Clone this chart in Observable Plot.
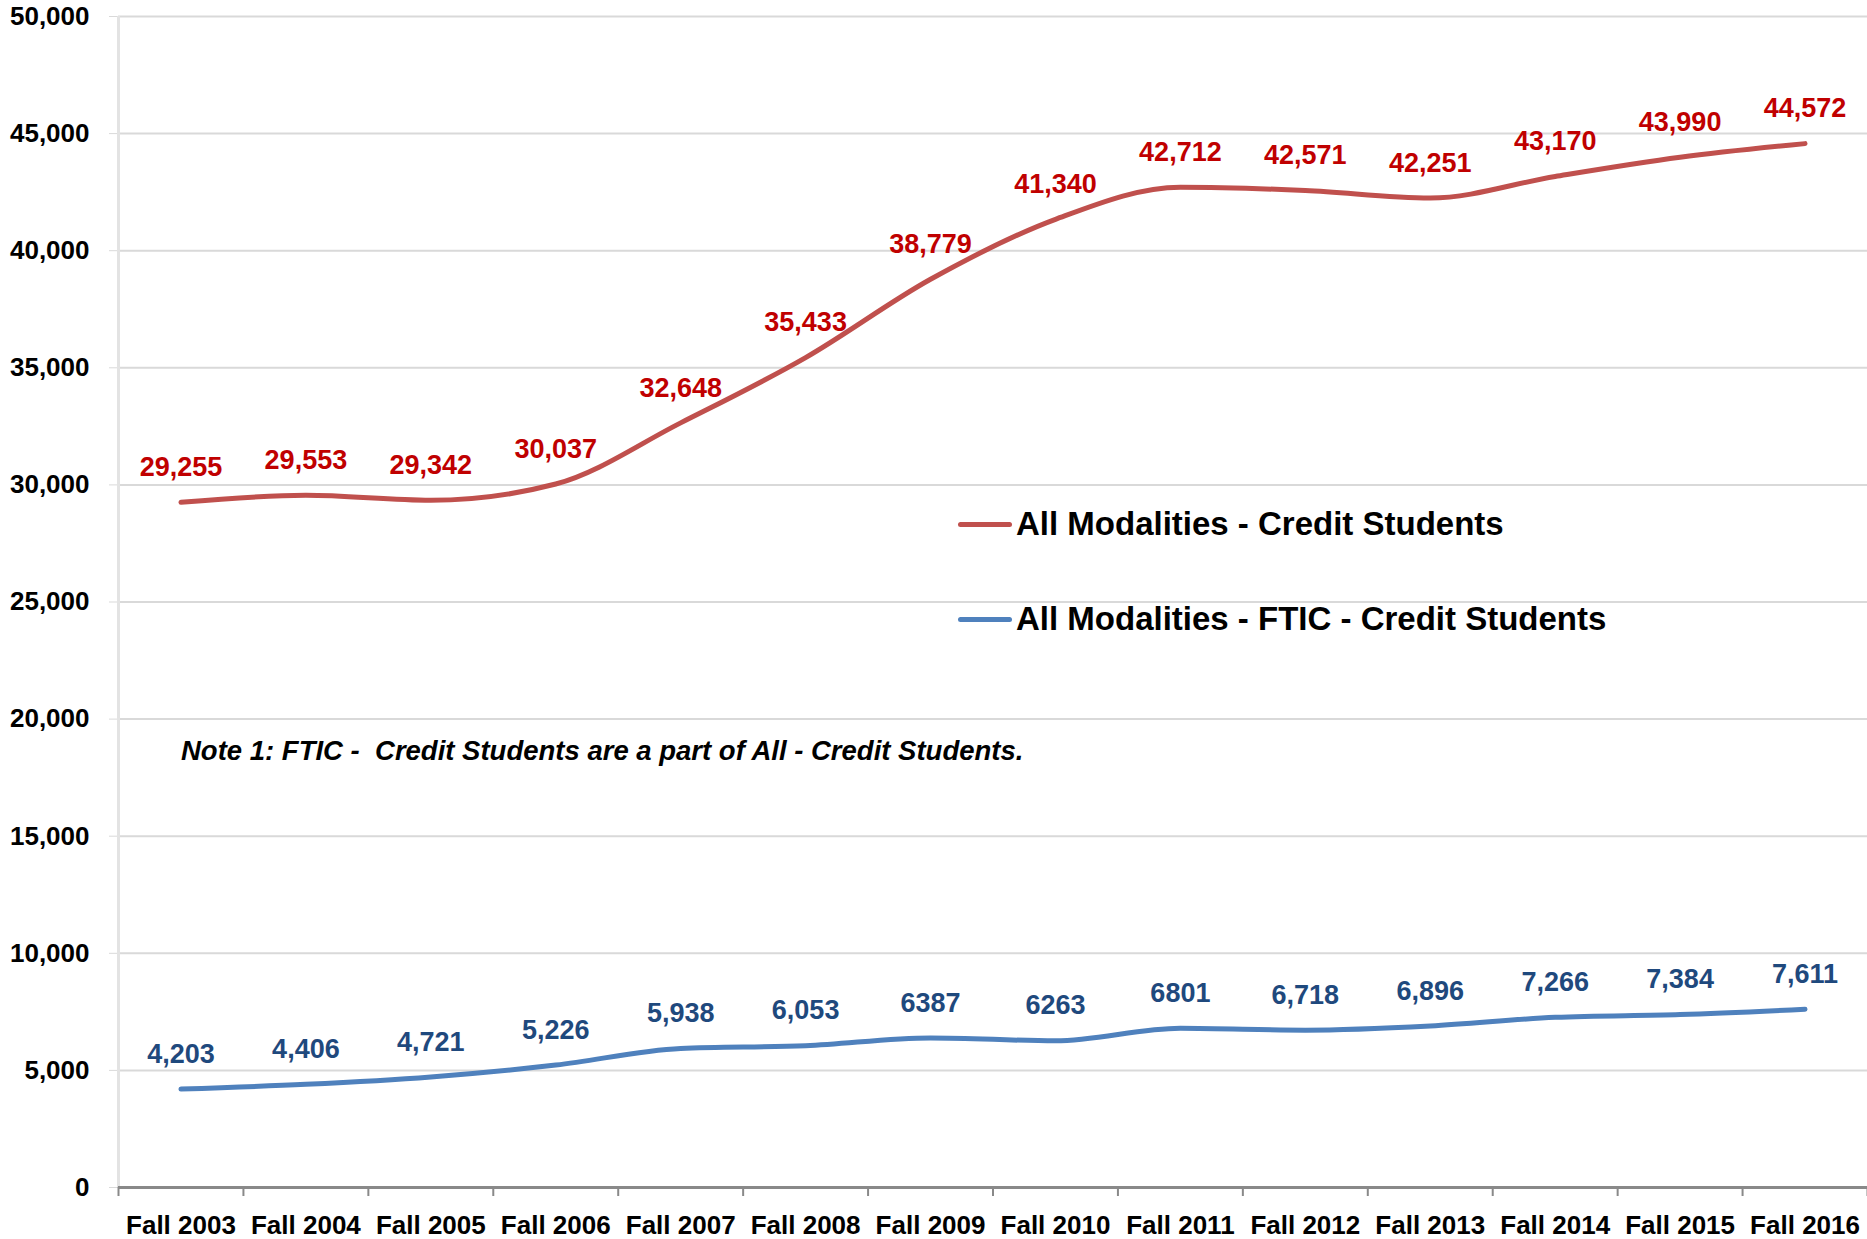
<!DOCTYPE html>
<html><head><meta charset="utf-8">
<script src="https://cdn.jsdelivr.net/npm/d3@7"></script>
<script src="https://cdn.jsdelivr.net/npm/@observablehq/plot@0.6"></script>
<style>
body{margin:0;background:#fff;}
#wrap{position:relative;width:1867px;height:1239px;overflow:hidden;}
.ff{font-family:"Liberation Sans",Arial,sans-serif;font-weight:bold;}
.legend{position:absolute;left:958px;font-size:33px;color:#000;display:flex;align-items:center;height:40px;white-space:pre;}
.sw{display:inline-block;width:54px;height:5px;border-radius:3px;margin-right:4px;}
.note{position:absolute;left:181px;top:735px;font-size:27.5px;line-height:32px;font-style:italic;white-space:pre;color:#000;}
</style></head>
<body><div id="wrap"></div>
<script>
const terms = ["Fall 2003","Fall 2004","Fall 2005","Fall 2006","Fall 2007","Fall 2008","Fall 2009","Fall 2010","Fall 2011","Fall 2012","Fall 2013","Fall 2014","Fall 2015","Fall 2016"];
const allCredit = [29255,29553,29342,30037,32648,35433,38779,41340,42712,42571,42251,43170,43990,44572];
const allCreditLabels = ["29,255","29,553","29,342","30,037","32,648","35,433","38,779","41,340","42,712","42,571","42,251","43,170","43,990","44,572"];
const ftic = [4203,4406,4721,5226,5938,6053,6387,6263,6801,6718,6896,7266,7384,7611];
const fticLabels = ["4,203","4,406","4,721","5,226","5,938","6,053","6387","6263","6801","6,718","6,896","7,266","7,384","7,611"];
const seriesNames = ["All Modalities - Credit Students","All Modalities - FTIC - Credit Students"];
const lineColors = ["#c0504d","#4f81bd"];
const labelColors = ["#c00000","#1f497d"];
const yTicks = d3.range(0, 50001, 5000);
const noteText = "Note 1: FTIC -  Credit Students are a part of All - Credit Students.";

const rows = [];
terms.forEach((t,i)=>{
  rows.push({i, term:t, value:allCredit[i], label:allCreditLabels[i], s:0});
  rows.push({i, term:t, value:ftic[i], label:fticLabels[i], s:1});
});
const FF = '"Liberation Sans",Arial,sans-serif';

const chart = Plot.plot({
  width:1867, height:1239,
  marginLeft:118, marginRight:0, marginTop:16, marginBottom:52,
  style:{fontFamily:FF, fontWeight:"bold", fontSize:"26px", color:"#000", background:"#fff"},
  x:{domain:[-0.5, terms.length-0.5], axis:null},
  y:{domain:[0,50000], axis:null},
  marks:[
    Plot.ruleY(yTicks.filter(d=>d>0), {stroke:"#d9d9d9", strokeWidth:2, x1:-0.5, x2:terms.length-0.5}),
    Plot.axisY({ticks:yTicks, tickSize:9, tickPadding:20, stroke:"#d9d9d9", tickFormat:d3.format(","), fontSize:26, fontWeight:"bold", label:null}),
    Plot.ruleX([-0.5], {stroke:"#e3e3e3", strokeWidth:3}),
    Plot.ruleY([0], {stroke:"#898989", strokeWidth:3}),
    Plot.axisX({ticks:d3.range(-0.5, terms.length, 1), tickSize:9, stroke:"#898989", strokeWidth:2, tickFormat:()=>"", label:null}),
    Plot.axisX({ticks:d3.range(terms.length), tickSize:0, tickPadding:28, tickFormat:i=>terms[i], fontSize:26, fontWeight:"bold", label:null}),
    Plot.line(rows, {x:"i", y:"value", z:"s", stroke:d=>lineColors[d.s], strokeWidth:5, curve:"monotone-x", strokeLinecap:"round", strokeLinejoin:"round"}),
    Plot.text(rows, {x:"i", y:"value", text:"label", fill:d=>labelColors[d.s], dy:-35, fontSize:27, fontWeight:"bold"})
  ]
});
const wrap = document.getElementById("wrap");
wrap.appendChild(chart);
const tops = [504, 599];
seriesNames.forEach((n,k)=>{
  const d = document.createElement("div");
  d.className = "legend ff";
  d.style.top = tops[k]+"px";
  const sw = document.createElement("span");
  sw.className = "sw"; sw.style.background = lineColors[k];
  d.appendChild(sw);
  d.appendChild(document.createTextNode(n));
  wrap.appendChild(d);
});
const nt = document.createElement("div");
nt.className = "note ff"; nt.textContent = noteText;
wrap.appendChild(nt);
</script>
</body></html>
